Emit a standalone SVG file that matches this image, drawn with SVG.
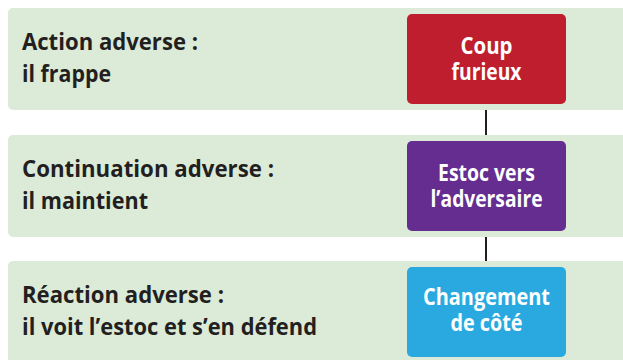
<svg xmlns="http://www.w3.org/2000/svg" width="623" height="360" viewBox="0 0 623 360">
<style>
.band{fill:#dbebd8}
.lbl{font-family:"Open Sans","Liberation Sans",sans-serif;font-weight:700;font-size:22.5px;fill:#231f20}
.btxt{font-family:"Open Sans","Liberation Sans",sans-serif;font-weight:700;font-size:23px;fill:#ffffff;text-anchor:middle}
.conn{stroke:#231f20;stroke-width:2;fill:none}
</style>
<rect width="623" height="360" fill="#ffffff"/>
<g id="connectors">
<line class="conn" x1="486" y1="104" x2="486" y2="141"/>
<line class="conn" x1="486" y1="231" x2="486" y2="267"/>
</g>
<g id="row1">
<rect class="band" x="8" y="8" width="630" height="102" rx="5"/>
<text class="lbl" x="22" y="50" textLength="176" lengthAdjust="spacingAndGlyphs">Action adverse :</text>
<text class="lbl" x="22" y="82" textLength="89" lengthAdjust="spacingAndGlyphs">il frappe</text>
</g>
<g id="row2">
<rect class="band" x="8" y="135" width="630" height="102" rx="5"/>
<text class="lbl" x="22" y="177" textLength="252" lengthAdjust="spacingAndGlyphs">Continuation adverse :</text>
<text class="lbl" x="22" y="209" textLength="126" lengthAdjust="spacingAndGlyphs">il maintient</text>
</g>
<g id="row3">
<rect class="band" x="8" y="261" width="630" height="110" rx="5"/>
<text class="lbl" x="22" y="303" textLength="202" lengthAdjust="spacingAndGlyphs">Réaction adverse :</text>
<text class="lbl" x="22" y="335" textLength="295" lengthAdjust="spacingAndGlyphs">il voit l’estoc et s’en défend</text>
</g>
<g id="node-coup">
<rect x="407" y="14" width="159" height="90" rx="5" fill="#be1e2d"/>
<text class="btxt" x="486.5" y="54" textLength="52" lengthAdjust="spacingAndGlyphs">Coup</text>
<text class="btxt" x="486.5" y="80" textLength="70" lengthAdjust="spacingAndGlyphs">furieux</text>
</g>
<g id="node-estoc">
<rect x="407" y="141" width="159" height="90" rx="5" fill="#662d91"/>
<text class="btxt" x="486.5" y="181" textLength="97" lengthAdjust="spacingAndGlyphs">Estoc vers</text>
<text class="btxt" x="486.5" y="207" textLength="112" lengthAdjust="spacingAndGlyphs">l’adversaire</text>
</g>
<g id="node-changement">
<rect x="407" y="267" width="159" height="90" rx="5" fill="#29a9e0"/>
<text class="btxt" x="486.5" y="305" textLength="127" lengthAdjust="spacingAndGlyphs">Changement</text>
<text class="btxt" x="486.5" y="331" textLength="72" lengthAdjust="spacingAndGlyphs">de côté</text>
</g>
</svg>
